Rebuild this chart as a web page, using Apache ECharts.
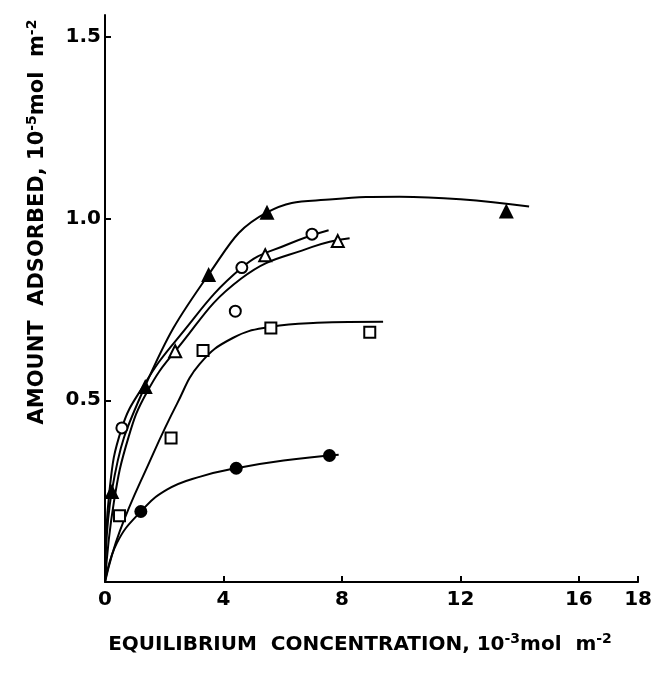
<!DOCTYPE html>
<html><head><meta charset="utf-8">
<script src="https://cdn.jsdelivr.net/npm/echarts@6/dist/echarts.min.js"></script>
<style>html,body{margin:0;padding:0;background:#fff}#c{width:655px;height:673px}</style>
</head><body><div id="c"></div>
<script>
// tick labels
const xTicks = [0, 4, 8, 12, 16, 18];
const yTicks = [0.5, 1.0, 1.5];

// measured points [concentration, amount]
const filledTriangles = [[0.23,0.249],[1.36,0.538],[3.50,0.846],[5.47,1.017],[13.55,1.021]];
const openCircles     = [[0.57,0.424],[4.40,0.745],[4.62,0.865],[6.99,0.957]];
const openTriangles   = [[2.37,0.635],[5.41,0.899],[7.86,0.938]];
const openSquares     = [[0.49,0.182],[2.23,0.396],[3.31,0.637],[5.60,0.699],[8.94,0.687]];
const filledCircles   = [[1.21,0.194],[4.43,0.313],[7.58,0.348]];

// fitted curves
const curveFilledTri = [[0,0],[0.23,0.25],[1.36,0.54],[3.5,0.846],[5.47,1.017],[7.69,1.053],[9.94,1.06],[12.0,1.053],[14.32,1.033]];
const curveOpenCircle = [[0,0],[0.15,0.25],[0.57,0.424],[1.3,0.54],[2.4,0.665],[4.62,0.865],[6.2,0.93],[7.55,0.968]];
const curveOpenTri = [[0,0],[0.3,0.22],[0.8,0.40],[1.4,0.52],[2.37,0.635],[4.6,0.835],[7.0,0.922],[8.26,0.946]];
const curveSquare = [[0,0],[0.5,0.14],[1.5,0.33],[2.43,0.49],[3.2,0.60],[4.33,0.672],[5.6,0.702],[7.16,0.713],[9.39,0.716]];
const curveFilledCircle = [[0,0],[0.4,0.107],[1.21,0.194],[2.09,0.254],[3.22,0.29],[4.43,0.313],[6.03,0.334],[7.89,0.35]];

const FONT = 'DejaVu Sans';
const chart = echarts.init(document.getElementById('c'));

function lineSeries(d){
  return {type:'line', data:d, showSymbol:false, smooth:0.45,
    lineStyle:{color:'#000', width:2}, silent:true, z:2};
}
function scatter(d, symbol, size, filled){
  return {type:'scatter', data:d, symbol:symbol, symbolSize:size, z:3,
    itemStyle: filled ? {color:'#000', opacity:1} : {color:'#fff', borderColor:'#000', borderWidth:2, opacity:1}};
}
const titleRich = {
  a:{fontFamily:FONT, fontWeight:'bold', fontSize:20, lineHeight:26, fill:'#000'},
  s:{fontFamily:FONT, fontWeight:'bold', fontSize:14, lineHeight:14, verticalAlign:'top', fill:'#000'}
};
const yTitleRich = {
  a:{fontFamily:FONT, fontWeight:'bold', fontSize:21, lineHeight:26, fill:'#000'},
  s:{fontFamily:FONT, fontWeight:'bold', fontSize:14, lineHeight:14, verticalAlign:'top', fill:'#000'}
};

chart.setOption({
  animation:false,
  backgroundColor:'#fff',
  grid:{left:105, right:15, top:15, bottom:91},
  xAxis:{type:'value', min:0, max:18,
    axisLine:{lineStyle:{color:'#000', width:2}},
    axisTick:{inside:true, length:6, lineStyle:{color:'#000', width:2}, customValues:xTicks},
    axisLabel:{customValues:xTicks, color:'#000', fontFamily:FONT, fontWeight:'bold', fontSize:20, margin:8},
    splitLine:{show:false}},
  yAxis:{type:'value', min:0, max:1.56,
    axisLine:{lineStyle:{color:'#000', width:2}},
    axisTick:{inside:true, length:6, lineStyle:{color:'#000', width:2}, customValues:yTicks},
    axisLabel:{customValues:yTicks, color:'#000', fontFamily:FONT, fontWeight:'bold', fontSize:20, margin:4,
      formatter:v=>v.toFixed(1)},
    splitLine:{show:false}},
  graphic:[
    {type:'text', x:360, y:645,
      style:{text:'{a|EQUILIBRIUM  CONCENTRATION, 10}{s|-3}{a|mol  m}{s|-2}', fill:'#000',
        align:'center', verticalAlign:'middle', rich:titleRich}},
    {type:'text', x:38, y:222, rotation:Math.PI/2,
      style:{text:'{a|AMOUNT  ADSORBED, 10}{s|-5}{a|mol  m}{s|-2}', fill:'#000',
        align:'center', verticalAlign:'middle', rich:yTitleRich}}
  ],
  series:[
    lineSeries(curveFilledTri), lineSeries(curveOpenCircle), lineSeries(curveOpenTri),
    lineSeries(curveSquare), lineSeries(curveFilledCircle),
    scatter(filledTriangles,'triangle',15,true),
    scatter(openCircles,'circle',11,false),
    scatter(openTriangles,'triangle',12,false),
    scatter(openSquares,'rect',11,false),
    scatter(filledCircles,'circle',13,true)
  ]
});
</script></body></html>
